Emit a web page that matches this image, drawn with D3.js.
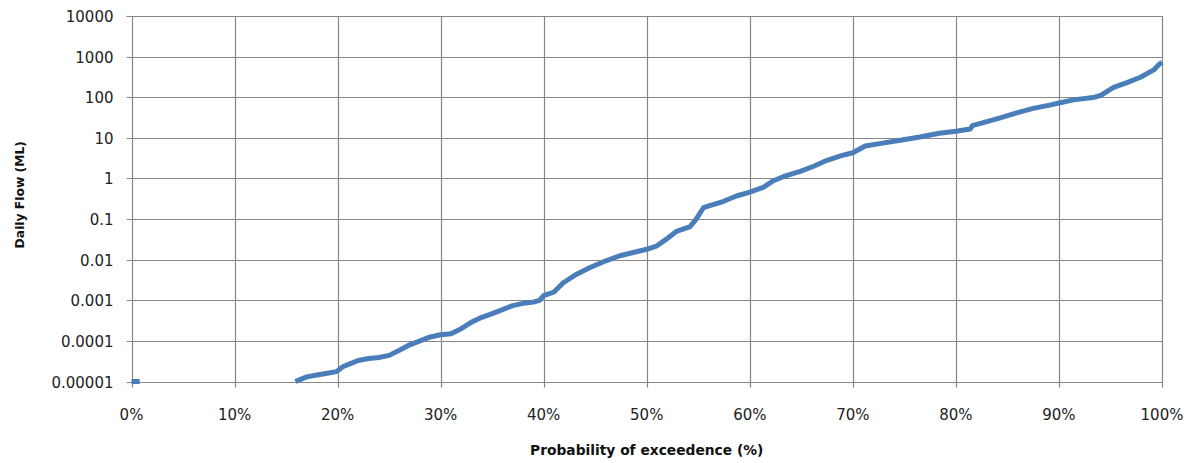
<!DOCTYPE html>
<html>
<head>
<meta charset="utf-8">
<script src="https://cdn.jsdelivr.net/npm/d3@7"></script>
<style>
  html, body { margin: 0; padding: 0; background: #fff; }
  svg { display: block; }
</style>
</head>
<body>
<svg id="chart" width="1190" height="463"></svg>
<script>
// Exceedance probability (%) and daily flow (ML); null = break in line
const exceedance = [0, 0.8, null,
  15.9, 17, 18, 19, 19.9, 20.5, 21, 22, 23, 24, 25, 26, 27, 28, 29, 30, 31, 32, 33, 34, 35, 36, 37, 38, 39, 39.6,
  40, 41, 41.9, 43.2, 44.5, 46.1, 47.4, 48.7, 50, 51, 51.9, 52.9, 54.2, 54.8, 55.5, 56.5, 57.4, 58.7,
  60, 61.3, 62.3, 63.3, 64.9, 66.2, 67.5, 68.8, 70, 71.2, 72.6, 74.6, 76.5, 78.4,
  80, 81.4, 81.6, 83, 84.3, 85.9, 87.5, 89.1, 90, 91.4, 93.3, 94.1, 95.3, 96.6, 97.9, 99.2, 99.7, 100];
const flow = [1e-5, 1e-5, null,
  1.0e-5, 1.3e-5, 1.45e-5, 1.6e-5, 1.75e-5, 2.3e-5, 2.6e-5, 3.3e-5, 3.7e-5, 3.9e-5, 4.4e-5, 5.9e-5, 8e-5, 1.0e-4, 1.25e-4, 1.42e-4, 1.5e-4, 2.0e-4, 2.9e-4, 3.8e-4, 4.7e-4, 5.9e-4, 7.4e-4, 8.4e-4, 9.0e-4, 1.0e-3,
  1.3e-3, 1.6e-3, 2.7e-3, 4.4e-3, 6.4e-3, 9.5e-3, 0.0125, 0.015, 0.018, 0.022, 0.032, 0.05, 0.065, 0.1, 0.19, 0.23, 0.27, 0.37,
  0.46, 0.6, 0.88, 1.12, 1.5, 2.0, 2.8, 3.6, 4.3, 6.3, 7.2, 8.7, 10.5, 13,
  14.5, 16.5, 20, 25, 31, 41, 53, 64, 72, 86, 98, 112, 175, 228, 310, 470, 640, 720];

const yTicks = [0.00001, 0.0001, 0.001, 0.01, 0.1, 1, 10, 100, 1000, 10000];
const yTickLabels = ["0.00001", "0.0001", "0.001", "0.01", "0.1", "1", "10", "100", "1000", "10000"];
const xTicks = [0, 10, 20, 30, 40, 50, 60, 70, 80, 90, 100];
const xTickLabels = ["0%", "10%", "20%", "30%", "40%", "50%", "60%", "70%", "80%", "90%", "100%"];

(function () {
const svg = d3.select("#chart");
const pLeft = 131.5, pRight = 1162, pTop = 16, pBottom = 381.5;

const x = d3.scaleLinear().domain([0, 100]).range([pLeft, pRight]);
const y = d3.scaleLog().domain([0.00001, 10000]).range([pBottom, pTop]);

const gridColor = "#878787";
const font = "'DejaVu Sans', sans-serif";

// horizontal gridlines
svg.append("g").selectAll("line").data(yTicks).join("line")
  .attr("x1", pLeft - 5).attr("x2", pRight)
  .attr("y1", d => Math.round(y(d)) + 0.5).attr("y2", d => Math.round(y(d)) + 0.5)
  .attr("stroke", gridColor).attr("stroke-width", 1.2);

// vertical gridlines
svg.append("g").selectAll("line").data(xTicks).join("line")
  .attr("x1", d => Math.round(x(d)) + 0.5).attr("x2", d => Math.round(x(d)) + 0.5)
  .attr("y1", pTop).attr("y2", pBottom + 6)
  .attr("stroke", gridColor).attr("stroke-width", 1.2);

// y tick labels
svg.append("g").selectAll("text").data(yTicks).join("text")
  .attr("x", 113.5).attr("y", d => y(d) + 6)
  .attr("text-anchor", "end")
  .attr("font-family", font).attr("font-size", 15).attr("fill", "#222")
  .text((d, i) => yTickLabels[i]);

// x tick labels
svg.append("g").selectAll("text").data(xTicks).join("text")
  .attr("x", d => x(d)).attr("y", 419.5)
  .attr("text-anchor", "middle")
  .attr("font-family", font).attr("font-size", 15).attr("fill", "#222")
  .text((d, i) => xTickLabels[i]);

// axis titles
svg.append("text")
  .attr("x", (pLeft + pRight) / 2).attr("y", 454.5)
  .attr("text-anchor", "middle")
  .attr("font-family", font).attr("font-weight", "bold").attr("font-size", 13.8).attr("fill", "#111")
  .text("Probability of exceedence (%)");

svg.append("text")
  .attr("transform", `translate(23.5, ${(pTop + pBottom) / 2 - 4}) rotate(-90)`)
  .attr("text-anchor", "middle")
  .attr("font-family", font).attr("font-weight", "bold").attr("font-size", 12.3).attr("fill", "#111")
  .text("Daily Flow (ML)");

// data line
const pts = exceedance.map((e, i) => ({ e, f: flow[i] }));
const line = d3.line()
  .defined(d => d.e !== null && d.f !== null)
  .x(d => x(d.e)).y(d => y(d.f));

svg.append("path")
  .datum(pts)
  .attr("d", line)
  .attr("fill", "none")
  .attr("stroke", "#4a7ebb")
  .attr("stroke-width", 5)
  .attr("stroke-linejoin", "round")
  .attr("stroke-linecap", "butt");
})();
</script>
</body>
</html>
